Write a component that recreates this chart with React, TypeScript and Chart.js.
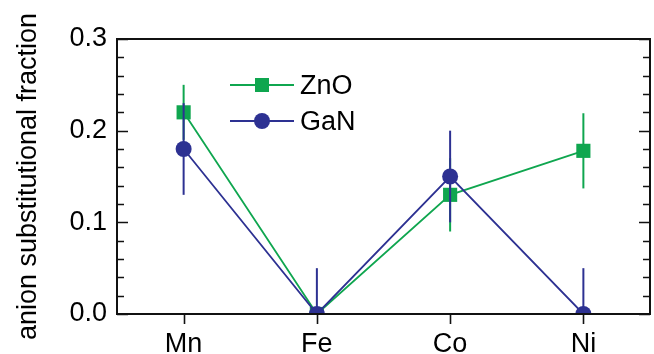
import React, { useEffect, useRef } from 'react';
import { Chart, registerables } from 'chart.js';

Chart.register(...registerables);

const categories = ['Mn', 'Fe', 'Co', 'Ni'];
const znoValues = [0.22, 0, 0.13, 0.178];
const znoErrors = [0.03, 0, 0.04, 0.041];
const ganValues = [0.18, 0, 0.15, 0];
const ganErrors = [0.05, 0.05, 0.05, 0.05];
const seriesNames = ['ZnO', 'GaN'];
const yMin = 0;
const yMax = 0.3;
const yMajorStep = 0.1;
const yMinorStep = 0.02;
const yTitle = 'anion substitutional fraction';

const GREEN = '#0FA64F';
const BLUE = '#2D3192';
const FONT = '"Liberation Sans", Arial, Helvetica, sans-serif';

const errorBarPlugin = {
  id: 'errorBars',
  beforeDatasetDraw(chart: any, args: any) {
    const ds = chart.data.datasets[args.index];
    const errs: number[] = ds.errors || [];
    const yScale = chart.scales.y;
    const area = chart.chartArea;
    const ctx = chart.ctx;
    ctx.save();
    ctx.beginPath();
    ctx.rect(area.left, area.top - 20, area.right - area.left, area.bottom - area.top + 20);
    ctx.clip();
    ctx.strokeStyle = ds.borderColor;
    ctx.lineWidth = 2;
    args.meta.data.forEach((el: any, i: number) => {
      const v = ds.data[i];
      const e = errs[i] || 0;
      if (!e) return;
      const y1 = yScale.getPixelForValue(v + e);
      const y2 = yScale.getPixelForValue(v - e);
      ctx.beginPath();
      ctx.moveTo(el.x, y1);
      ctx.lineTo(el.x, y2);
      ctx.stroke();
    });
    ctx.restore();
  },
};

const framePlugin = {
  id: 'frame',
  afterDraw(chart: any) {
    const { ctx, chartArea: a } = chart;
    const y = chart.scales.y;
    const x = chart.scales.x;
    ctx.save();
    ctx.strokeStyle = '#111';
    ctx.lineWidth = 2;
    ctx.strokeRect(a.left, a.top, a.right - a.left, a.bottom - a.top);
    ctx.lineWidth = 1.6;
    const nMinor = Math.round((yMax - yMin) / yMinorStep);
    for (let k = 0; k <= nMinor; k++) {
      const v = yMin + k * yMinorStep;
      const major = k % Math.round(yMajorStep / yMinorStep) === 0;
      const len = major ? 11 : 7;
      const py = Math.round(y.getPixelForValue(v)) + 0.5;
      ctx.beginPath();
      ctx.moveTo(a.left, py);
      ctx.lineTo(a.left + len, py);
      ctx.moveTo(a.right, py);
      ctx.lineTo(a.right - len, py);
      ctx.stroke();
    }
    categories.forEach((_, i) => {
      const px = Math.round(x.getPixelForValue(i)) + 0.5;
      ctx.beginPath();
      ctx.moveTo(px, a.bottom);
      ctx.lineTo(px, a.bottom + 10);
      ctx.stroke();
    });
    ctx.restore();
  },
};

const legendPlugin = {
  id: 'customLegend',
  afterDraw(chart: any) {
    const { ctx, chartArea: a } = chart;
    const rows = [
      { name: seriesNames[0], color: GREEN, style: 'rect', y: a.top + 46 },
      { name: seriesNames[1], color: BLUE, style: 'circle', y: a.top + 82 },
    ];
    ctx.save();
    rows.forEach((r) => {
      const x0 = a.left + 113;
      const x1 = a.left + 177;
      const xm = (x0 + x1) / 2;
      ctx.strokeStyle = r.color;
      ctx.lineWidth = 1.8;
      ctx.beginPath();
      ctx.moveTo(x0, r.y);
      ctx.lineTo(x1, r.y);
      ctx.stroke();
      ctx.fillStyle = r.color;
      if (r.style === 'rect') {
        ctx.fillRect(xm - 7, r.y - 7, 14, 14);
      } else {
        ctx.beginPath();
        ctx.arc(xm, r.y, 8, 0, Math.PI * 2);
        ctx.fill();
      }
      ctx.fillStyle = '#000';
      ctx.font = `27px ${FONT}`;
      ctx.textBaseline = 'middle';
      ctx.textAlign = 'left';
      ctx.fillText(r.name, x1 + 6, r.y + 2);
    });
    ctx.restore();
  },
};

export default function App() {
  const ref = useRef<HTMLCanvasElement>(null);
  useEffect(() => {
    if (!ref.current) return;
    const chart = new Chart(ref.current, {
      type: 'line',
      data: {
        labels: categories,
        datasets: [
          {
            label: seriesNames[0],
            data: znoValues,
            errors: znoErrors,
            borderColor: GREEN,
            backgroundColor: GREEN,
            borderWidth: 1.8,
            pointStyle: 'rect',
            pointRadius: 10,
            pointBorderWidth: 0,
            order: 1,
            clip: { left: 30, right: 30, top: 30, bottom: 0 },
          } as any,
          {
            label: seriesNames[1],
            data: ganValues,
            errors: ganErrors,
            borderColor: BLUE,
            backgroundColor: BLUE,
            borderWidth: 1.8,
            pointStyle: 'circle',
            pointRadius: 8,
            pointBorderWidth: 0,
            order: 0,
            clip: { left: 30, right: 30, top: 30, bottom: 0 },
          } as any,
        ],
      },
      options: {
        animation: false,
        responsive: false,
        layout: { autoPadding: false, padding: { top: 39, right: 4, left: 0, bottom: 0 } },
        plugins: { legend: { display: false }, tooltip: { enabled: false } },
        scales: {
          x: {
            type: 'category',
            offset: true,
            grid: { display: false, drawTicks: false },
            border: { display: false },
            ticks: { color: '#000', padding: 14, font: { family: FONT, size: 27 } },
            afterFit: (s: any) => {
              s.height = 40;
              s.paddingLeft = 0;
              s.paddingRight = 0;
            },
          },
          y: {
            min: yMin,
            max: yMax,
            grid: { display: false, drawTicks: false },
            border: { display: false },
            ticks: {
              stepSize: yMajorStep,
              color: '#000',
              padding: 10,
              font: { family: FONT, size: 27 },
              callback: (v: any) => Number(v).toFixed(1),
            },
            title: {
              display: true,
              text: yTitle,
              color: '#000',
              font: { family: FONT, size: 27 },
              padding: { top: 12, bottom: 0 },
            },
            afterFit: (s: any) => {
              s.width = 117;
              s.paddingTop = 0;
              s.paddingBottom = 0;
            },
          },
        },
      },
      plugins: [errorBarPlugin, framePlugin, legendPlugin],
    } as any);
    return () => chart.destroy();
  }, []);
  return (
    <div style={{ position: 'fixed', left: 0, top: 0, width: 654, height: 354 }}>
      <canvas ref={ref} width={654} height={354} style={{ display: 'block' }} />
    </div>
  );
}
